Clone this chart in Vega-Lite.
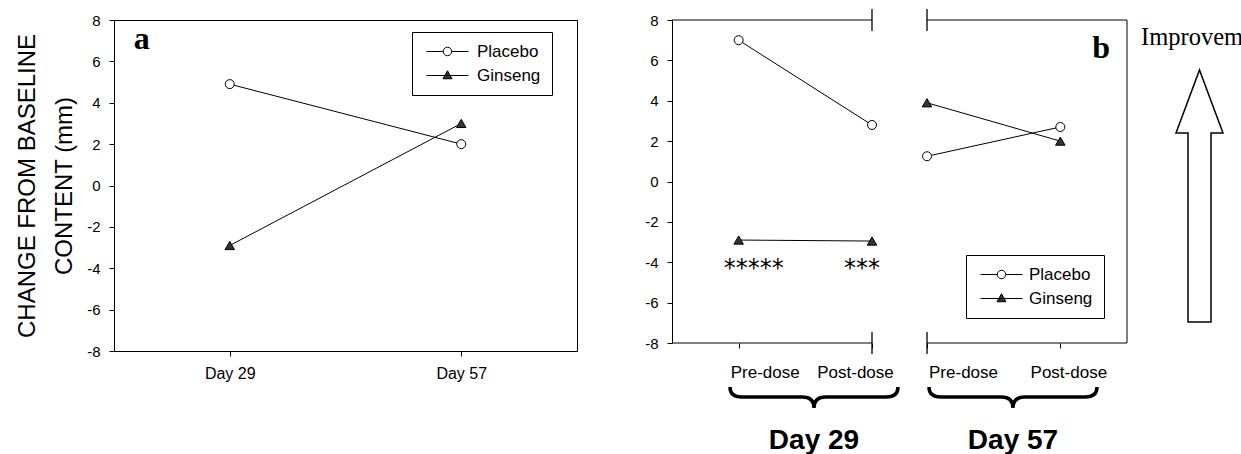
{
  "$schema": "https://vega.github.io/schema/vega-lite/v6.json",
  "background": "white",
  "padding": {"left": 15, "top": 8, "right": 0, "bottom": 0},
  "autosize": {"type": "pad"},
  "spacing": 0,
  "bounds": "flush",
  "datasets": {
    "a": [
      {"day": "Day 29", "group": "Placebo", "value": 4.9},
      {"day": "Day 57", "group": "Placebo", "value": 2.0},
      {"day": "Day 29", "group": "Ginseng", "value": -2.9},
      {"day": "Day 57", "group": "Ginseng", "value": 3.0}
    ],
    "b29": [
      {"time": "Pre-dose", "t": 0, "group": "Placebo", "value": 7.0},
      {"time": "Post-dose", "t": 1, "group": "Placebo", "value": 2.8},
      {"time": "Pre-dose", "t": 0, "group": "Ginseng", "value": -2.9},
      {"time": "Post-dose", "t": 1, "group": "Ginseng", "value": -2.95}
    ],
    "b57": [
      {"time": "Pre-dose", "t": 0, "group": "Placebo", "value": 1.25},
      {"time": "Post-dose", "t": 1, "group": "Placebo", "value": 2.7},
      {"time": "Pre-dose", "t": 0, "group": "Ginseng", "value": 3.9},
      {"time": "Post-dose", "t": 1, "group": "Ginseng", "value": 2.0}
    ]
  },
  "hconcat": [
    {
      "width": 463,
      "height": 331,
      "view": {"stroke": "black", "strokeWidth": 1},
      "data": {"name": "a"},
      "layer": [
        {
          "mark": {"type": "line", "color": "black", "strokeWidth": 1},
          "encoding": {
            "x": {"field": "day", "type": "ordinal", "scale": {"type": "point", "padding": 0.5}, "axis": {"title": null, "labelAngle": 0, "tickSize": 5, "labelPadding": 9, "labelFontSize": 16}},
            "y": {"field": "value", "type": "quantitative", "scale": {"domain": [-8, 8], "nice": false}, "axis": {"title": ["CHANGE FROM BASELINE", "CONTENT (mm)"], "values": [-8, -6, -4, -2, 0, 2, 4, 6, 8], "labelExpr": "'' + datum.value", "tickSize": 5, "labelPadding": 9, "labelFontSize": 15, "titleFontSize": 24, "titleFontWeight": "normal", "titleLineHeight": 37, "titlePadding": 10}},
            "detail": {"field": "group"}
          }
        },
        {
          "transform": [{"filter": "datum.group === 'Placebo'"}],
          "mark": {"type": "point", "shape": "circle", "size": 81, "filled": true, "fill": "white", "stroke": "black", "strokeWidth": 1, "opacity": 1},
          "encoding": {"x": {"field": "day", "type": "ordinal"}, "y": {"field": "value", "type": "quantitative"}}
        },
        {
          "transform": [{"filter": "datum.group === 'Ginseng'"}],
          "mark": {"type": "point", "shape": "triangle-up", "size": 90, "filled": true, "fill": "#333333", "stroke": "black", "strokeWidth": 1, "opacity": 1},
          "encoding": {"x": {"field": "day", "type": "ordinal"}, "y": {"field": "value", "type": "quantitative"}}
        },
        {
          "data": {"values": [{}]},
          "mark": {"type": "text", "text": "a", "font": "Liberation Serif", "fontSize": 32, "fontWeight": "bold", "align": "left", "baseline": "alphabetic", "dx": -96, "color": "black"},
          "encoding": {"x": {"datum": "Day 29", "type": "ordinal"}, "y": {"datum": 6.6, "type": "quantitative"}}
        },
        {
          "transform": [{"filter": "false"}],
          "mark": {"type": "point", "filled": true, "stroke": "black", "strokeWidth": 1, "opacity": 1},
          "encoding": {
            "shape": {"field": "group", "type": "nominal", "scale": {"domain": ["Placebo", "Ginseng"], "range": ["M-1,0 L2.35,0 M4.05,0 L7.4,0 M4.05,0 A0.85,0.85 0 1 1 2.35,0 A0.85,0.85 0 1 1 4.05,0 Z", "M-1,0 L7.4,0 M3.2,-0.95 L4.1,0.65 L2.3,0.65 Z"]}, "legend": {"orient": "none", "legendX": 298, "legendY": 12, "title": null, "strokeColor": "black", "fillColor": "white", "padding": 11, "symbolSize": 100, "labelOffset": 37, "rowPadding": 6, "labelFontSize": 17, "labelFont": "Liberation Sans", "labelColor": "black", "symbolStrokeWidth": 1}},
            "fill": {"field": "group", "type": "nominal", "scale": {"domain": ["Placebo", "Ginseng"], "range": ["white", "#333333"]}, "legend": {"orient": "none", "legendX": 298, "legendY": 12, "title": null, "strokeColor": "black", "fillColor": "white", "padding": 11, "symbolSize": 100, "labelOffset": 37, "rowPadding": 6, "labelFontSize": 17, "labelFont": "Liberation Sans", "labelColor": "black", "symbolStrokeWidth": 1}},
            "stroke": {"field": "group", "type": "nominal", "scale": {"domain": ["Placebo", "Ginseng"], "range": ["black", "black"]}, "legend": {"orient": "none", "legendX": 298, "legendY": 12, "title": null, "strokeColor": "black", "fillColor": "white", "padding": 11, "symbolSize": 100, "labelOffset": 37, "rowPadding": 6, "labelFontSize": 17, "labelFont": "Liberation Sans", "labelColor": "black", "symbolStrokeWidth": 1}}
          }
        }
      ]
    },
    {
      "width": 95,
      "height": 331,
      "data": {"values": [{}]},
      "mark": {"type": "point", "opacity": 0},
      "encoding": {}
    },
    {
      "width": 200,
      "height": 323,
      "data": {"name": "b29"},
      "layer": [
        {
          "mark": {"type": "line", "color": "black", "strokeWidth": 1},
          "encoding": {
            "x": {"field": "t", "type": "quantitative", "scale": {"domain": [-0.5, 1], "nice": false, "zero": false}, "axis": {"title": null, "values": [0, 1], "labelExpr": "datum.value == 0 ? 'Pre-dose' : 'Post-dose'", "labelFlush": false, "labelOverlap": false, "domain": false, "tickSize": 5, "labelPadding": 16, "labelFontSize": 17, "labelOffset": {"condition": {"test": "datum.value == 0", "value": 26}, "value": -17}}},
            "y": {"field": "value", "type": "quantitative", "scale": {"domain": [-8, 8], "nice": false}, "axis": {"title": null, "values": [-8, -6, -4, -2, 0, 2, 4, 6, 8], "labelExpr": "'' + datum.value", "tickSize": 5, "labelPadding": 9, "labelFontSize": 15}},
            "detail": {"field": "group"}
          }
        },
        {
          "transform": [{"filter": "datum.group === 'Placebo'"}],
          "mark": {"type": "point", "shape": "circle", "size": 81, "filled": true, "fill": "white", "stroke": "black", "strokeWidth": 1, "opacity": 1},
          "encoding": {"x": {"field": "t", "type": "quantitative"}, "y": {"field": "value", "type": "quantitative"}}
        },
        {
          "transform": [{"filter": "datum.group === 'Ginseng'"}],
          "mark": {"type": "point", "shape": "triangle-up", "size": 90, "filled": true, "fill": "#333333", "stroke": "black", "strokeWidth": 1, "opacity": 1},
          "encoding": {"x": {"field": "t", "type": "quantitative"}, "y": {"field": "value", "type": "quantitative"}}
        },
        {
          "data": {"values": [{"edge": 8}, {"edge": -8}]},
          "mark": {"type": "rule", "color": "black", "strokeWidth": 1},
          "encoding": {"y": {"field": "edge", "type": "quantitative"}}
        },
        {
          "data": {"values": [{"lo": 7.45, "hi": 8.55}, {"lo": -8.55, "hi": -7.45}]},
          "mark": {"type": "rule", "color": "black", "strokeWidth": 1.3},
          "encoding": {"x": {"datum": 1}, "y": {"field": "lo", "type": "quantitative"}, "y2": {"field": "hi"}}
        },
        {
          "data": {"values": [{}]},
          "mark": {"type": "text", "text": "*****", "font": "DejaVu Sans", "fontSize": 24, "dx": 15, "baseline": "middle", "align": "center", "color": "black"},
          "encoding": {"x": {"datum": 0}, "y": {"datum": -4.35}}
        },
        {
          "data": {"values": [{}]},
          "mark": {"type": "text", "text": "***", "font": "DejaVu Sans", "fontSize": 24, "dx": -10, "baseline": "middle", "align": "center", "color": "black"},
          "encoding": {"x": {"datum": 1}, "y": {"datum": -4.35}}
        },
        {
          "data": {"values": [{}]},
          "mark": {"type": "point", "shape": "M-1,-0.125 Q-1,-0.006 -0.86,-0.006 L-0.14,-0.006 Q0,-0.006 0,0.125 Q0,-0.006 0.14,-0.006 L0.86,-0.006 Q1,-0.006 1,-0.125", "size": 28224, "filled": false, "stroke": "black", "strokeWidth": 3.5, "opacity": 1},
          "encoding": {"x": {"datum": 0.565}, "y": {"datum": -10.7}}
        },
        {
          "data": {"values": [{}]},
          "mark": {"type": "text", "text": "Day 29", "font": "Liberation Sans", "fontSize": 28, "fontWeight": "bold", "baseline": "alphabetic", "align": "center", "color": "black"},
          "encoding": {"x": {"datum": 0.565}, "y": {"datum": -13.25}}
        }
      ]
    },
    {
      "width": 55,
      "height": 323,
      "data": {"values": [{}]},
      "mark": {"type": "point", "opacity": 0},
      "encoding": {}
    },
    {
      "width": 200,
      "height": 323,
      "data": {"name": "b57"},
      "layer": [
        {
          "mark": {"type": "line", "color": "black", "strokeWidth": 1},
          "encoding": {
            "x": {"field": "t", "type": "quantitative", "scale": {"domain": [0, 1.5], "nice": false, "zero": false}, "axis": {"title": null, "values": [0, 1], "labelExpr": "datum.value == 0 ? 'Pre-dose' : 'Post-dose'", "labelFlush": false, "labelOverlap": false, "domain": false, "tickSize": 5, "labelPadding": 16, "labelFontSize": 17, "labelOffset": {"condition": {"test": "datum.value == 0", "value": 36}, "value": 8}}},
            "y": {"field": "value", "type": "quantitative", "scale": {"domain": [-8, 8], "nice": false}, "axis": null},
            "detail": {"field": "group"}
          }
        },
        {
          "transform": [{"filter": "datum.group === 'Placebo'"}],
          "mark": {"type": "point", "shape": "circle", "size": 81, "filled": true, "fill": "white", "stroke": "black", "strokeWidth": 1, "opacity": 1},
          "encoding": {"x": {"field": "t", "type": "quantitative"}, "y": {"field": "value", "type": "quantitative", "axis": null}}
        },
        {
          "transform": [{"filter": "datum.group === 'Ginseng'"}],
          "mark": {"type": "point", "shape": "triangle-up", "size": 90, "filled": true, "fill": "#333333", "stroke": "black", "strokeWidth": 1, "opacity": 1},
          "encoding": {"x": {"field": "t", "type": "quantitative"}, "y": {"field": "value", "type": "quantitative", "axis": null}}
        },
        {
          "data": {"values": [{"edge": 8}, {"edge": -8}]},
          "mark": {"type": "rule", "color": "black", "strokeWidth": 1},
          "encoding": {"y": {"field": "edge", "type": "quantitative", "axis": null}}
        },
        {
          "data": {"values": [{}]},
          "mark": {"type": "rule", "color": "black", "strokeWidth": 1},
          "encoding": {"x": {"datum": 1.5}}
        },
        {
          "data": {"values": [{"lo": 7.45, "hi": 8.55}, {"lo": -8.55, "hi": -7.45}]},
          "mark": {"type": "rule", "color": "black", "strokeWidth": 1.3},
          "encoding": {"x": {"datum": 0}, "y": {"field": "lo", "type": "quantitative", "axis": null}, "y2": {"field": "hi"}}
        },
        {
          "data": {"values": [{}]},
          "mark": {"type": "text", "text": "b", "font": "Liberation Serif", "fontSize": 32, "fontWeight": "bold", "align": "right", "baseline": "alphabetic", "dx": -17, "color": "black"},
          "encoding": {"x": {"datum": 1.5}, "y": {"datum": 6.12, "axis": null}}
        },
        {
          "data": {"values": [{}]},
          "mark": {"type": "point", "shape": "M-1,-0.125 Q-1,-0.006 -0.86,-0.006 L-0.14,-0.006 Q0,-0.006 0,0.125 Q0,-0.006 0.14,-0.006 L0.86,-0.006 Q1,-0.006 1,-0.125", "size": 28224, "filled": false, "stroke": "black", "strokeWidth": 3.5, "opacity": 1},
          "encoding": {"x": {"datum": 0.645}, "y": {"datum": -10.7, "axis": null}}
        },
        {
          "data": {"values": [{}]},
          "mark": {"type": "text", "text": "Day 57", "font": "Liberation Sans", "fontSize": 28, "fontWeight": "bold", "baseline": "alphabetic", "align": "center", "color": "black"},
          "encoding": {"x": {"datum": 0.645}, "y": {"datum": -13.25, "axis": null}}
        },
        {
          "data": {"name": "b57"},
          "transform": [{"filter": "false"}],
          "mark": {"type": "point", "filled": true, "stroke": "black", "strokeWidth": 1, "opacity": 1},
          "encoding": {
            "shape": {"field": "group", "type": "nominal", "scale": {"domain": ["Placebo", "Ginseng"], "range": ["M-1,0 L2.35,0 M4.05,0 L7.4,0 M4.05,0 A0.85,0.85 0 1 1 2.35,0 A0.85,0.85 0 1 1 4.05,0 Z", "M-1,0 L7.4,0 M3.2,-0.95 L4.1,0.65 L2.3,0.65 Z"]}, "legend": {"orient": "none", "legendX": 39, "legendY": 235, "title": null, "strokeColor": "black", "fillColor": "white", "padding": 11, "symbolSize": 100, "labelOffset": 35, "rowPadding": 6, "labelFontSize": 17, "labelFont": "Liberation Sans", "labelColor": "black", "symbolStrokeWidth": 1}},
            "fill": {"field": "group", "type": "nominal", "scale": {"domain": ["Placebo", "Ginseng"], "range": ["white", "#333333"]}, "legend": {"orient": "none", "legendX": 39, "legendY": 235, "title": null, "strokeColor": "black", "fillColor": "white", "padding": 11, "symbolSize": 100, "labelOffset": 35, "rowPadding": 6, "labelFontSize": 17, "labelFont": "Liberation Sans", "labelColor": "black", "symbolStrokeWidth": 1}},
            "stroke": {"field": "group", "type": "nominal", "scale": {"domain": ["Placebo", "Ginseng"], "range": ["black", "black"]}, "legend": {"orient": "none", "legendX": 39, "legendY": 235, "title": null, "strokeColor": "black", "fillColor": "white", "padding": 11, "symbolSize": 100, "labelOffset": 35, "rowPadding": 6, "labelFontSize": 17, "labelFont": "Liberation Sans", "labelColor": "black", "symbolStrokeWidth": 1}}
          }
        }
      ]
    },
    {
      "width": 113,
      "height": 323,
      "data": {"values": [{}]},
      "layer": [
        {
          "mark": {"type": "point", "shape": "M0,-1 L0.1865,-0.5 L0.0913,-0.5 L0.0913,1 L-0.0913,1 L-0.0913,-0.5 L-0.1865,-0.5 Z", "size": 63504, "filled": true, "fill": "white", "stroke": "black", "strokeWidth": 1.5, "opacity": 1},
          "encoding": {"x": {"datum": 0.6416, "type": "quantitative", "scale": {"domain": [0, 1], "nice": false, "zero": false}, "axis": null}, "y": {"datum": -0.717, "type": "quantitative", "scale": {"domain": [-8, 8], "nice": false}, "axis": null}}
        },
        {
          "mark": {"type": "text", "text": "Improvement", "font": "Liberation Serif", "fontSize": 24.5, "align": "left", "baseline": "alphabetic", "color": "black"},
          "encoding": {"x": {"datum": 0.124, "type": "quantitative", "axis": null}, "y": {"datum": 6.76, "type": "quantitative", "axis": null}}
        }
      ]
    }
  ],
  "resolve": {
    "scale": {"x": "independent", "y": "independent", "shape": "independent", "fill": "independent", "stroke": "independent"},
    "legend": {"shape": "independent", "fill": "independent", "stroke": "independent"}
  },
  "config": {
    "view": {"stroke": null},
    "font": "Liberation Sans",
    "axis": {"labelFont": "Liberation Sans", "labelColor": "black", "tickColor": "black", "domainColor": "black", "titleColor": "black", "titleFont": "Liberation Sans", "grid": false, "domainWidth": 1, "tickWidth": 1}
  }
}
